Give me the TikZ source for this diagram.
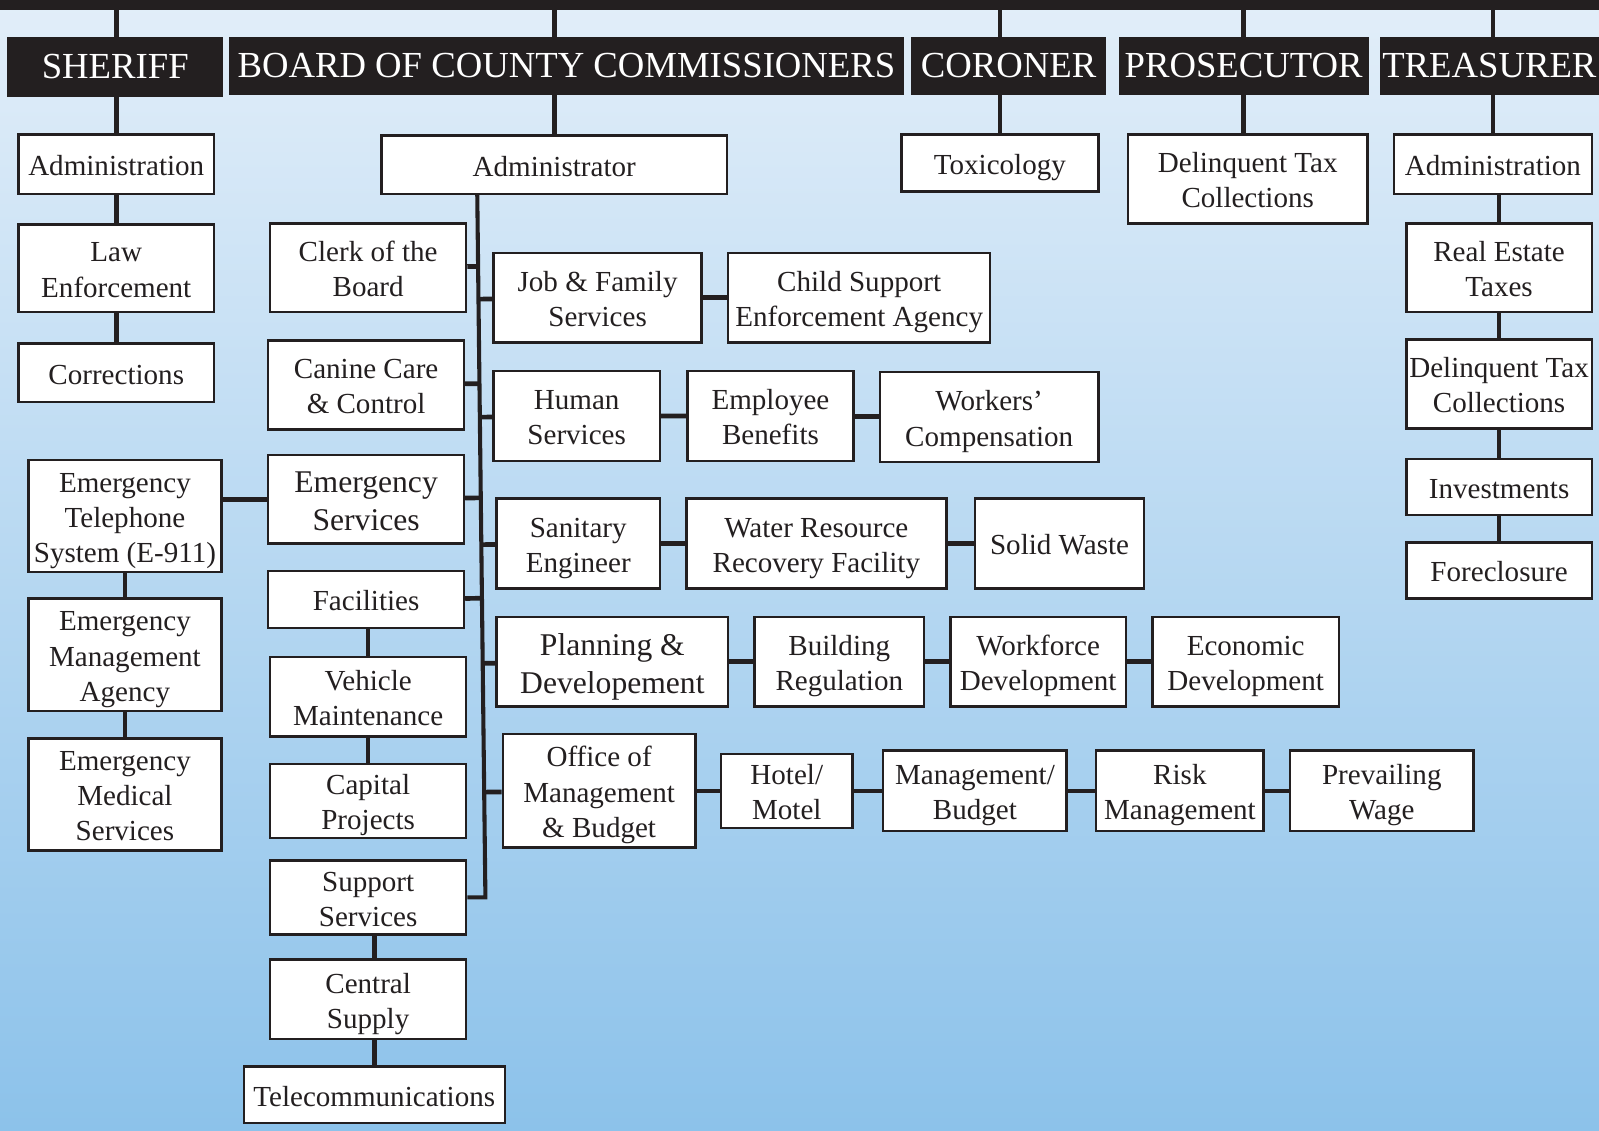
\documentclass[tikz,border=0pt]{standalone}
\usepackage{fontspec}
\setmainfont{Liberation Serif}
\usetikzlibrary{calc,backgrounds}
\definecolor{ink}{RGB}{35,31,32}
\definecolor{skytop}{RGB}{226,238,249}
\definecolor{skybot}{RGB}{140,194,234}

\begin{document}
\begin{tikzpicture}[x=1pt,y=-1pt,
	box/.style={draw=ink,line width=2.4pt,fill=white,text=ink,inner sep=0pt,align=center,font=\fontsize{28.5}{34.5}\selectfont,
		execute at begin node={\rule{0pt}{1.06em}},execute at end node={\rule[-0.28em]{0pt}{0.28em}}},
	twoline/.style={execute at begin node={\rule{0pt}{2.27em}}},
	threeline/.style={execute at begin node={\rule{0pt}{3.48em}}},
	head/.style={fill=ink,text=white,inner sep=0pt,font=\fontsize{36}{40}\selectfont},
	big/.style={font=\fontsize{31}{37}\selectfont},
	link/.style={draw=ink,line width=4.6pt},
	trunk/.style={draw=ink,line width=4pt}]
			\useasboundingbox (0,0) rectangle (1568,1109);
			
			\node[fill=ink,minimum width=1568pt,minimum height=10pt,inner sep=0pt] (bar) at (784,5) {};
			
			\node[head,minimum width=212pt,minimum height=59pt] (sheriff) at (113,65.5) {SHERIFF};
			\node[head,minimum width=661pt,minimum height=57pt] (board) at (555.5,64.5) {BOARD OF COUNTY COMMISSIONERS};
			\node[head,minimum width=192pt,minimum height=57pt] (coroner) at (989,64.5) {CORONER};
			\node[head,minimum width=245pt,minimum height=57pt] (prosecutor) at (1219.5,64.5) {PROSECUTOR};
			\node[head,minimum width=215pt,minimum height=57pt] (treasurer) at (1460.5,64.5) {TREASURER};
			
			\node[box,minimum width=192pt,minimum height=58pt] (sadmin) at (114,161) {Administration};
			\node[box,twoline,minimum width=192pt,minimum height=86pt] (law) at (114,263) {Law\\Enforcement};
			\node[box,minimum width=192pt,minimum height=57pt] (corr) at (114,365.5) {Corrections};
			
			\node[box,threeline,minimum width=189pt,minimum height=110pt] (e911) at (122.5,506) {Emergency\\Telephone\\System (E-911)};
			\node[box,threeline,minimum width=189pt,minimum height=110pt] (ema) at (122.5,642) {Emergency\\Management\\Agency};
			\node[box,threeline,minimum width=189pt,minimum height=110pt] (ems) at (122.5,779) {Emergency\\Medical\\Services};
			
			\node[box,minimum width=339pt,minimum height=57pt] (admr) at (543.5,161.5) {Administrator};
			\node[box,twoline,minimum width=192pt,minimum height=87pt] (clerk) at (361,262.5) {Clerk of the\\Board};
			\node[box,twoline,minimum width=192pt,minimum height=87pt] (canine) at (359,377.5) {Canine Care\\\& Control};
			\node[box,big,twoline,minimum width=192pt,minimum height=87pt] (emserv) at (359,489.5) {Emergency\\Services};
			\node[box,minimum width=192pt,minimum height=56pt] (facil) at (359,588) {Facilities};
			\node[box,twoline,minimum width=192pt,minimum height=78pt] (vehicle) at (361,683) {Vehicle\\Maintenance};
			\node[box,twoline,minimum width=192pt,minimum height=69pt] (capital) at (361,785.5) {Capital\\Projects};
			\node[box,twoline,minimum width=192pt,minimum height=68pt] (support) at (361,880) {Support\\Services};
			\node[box,twoline,minimum width=192pt,minimum height=78pt] (central) at (361,980) {Central\\Supply};
			\node[box,minimum width=256pt,minimum height=55pt] (telecom) at (367,1073.5) {Telecommunications};
			
			\node[box,twoline,minimum width=204pt,minimum height=88pt] (job) at (586,292) {Job \& Family\\Services};
			\node[box,twoline,minimum width=257pt,minimum height=88pt] (csea) at (842.5,292) {Child Support\\Enforcement Agency};
			\node[box,twoline,minimum width=163pt,minimum height=88pt] (human) at (565.5,408) {Human\\Services};
			\node[box,twoline,minimum width=163pt,minimum height=88pt] (empben) at (755.5,408) {Employee\\Benefits};
			\node[box,twoline,minimum width=214pt,minimum height=88pt] (workers) at (970,409) {Workers'\\Compensation};
			\node[box,twoline,minimum width=160pt,minimum height=88pt] (sanitary) at (567,533) {Sanitary\\Engineer};
			\node[box,twoline,minimum width=255pt,minimum height=88pt] (water) at (800.5,533) {Water Resource\\Recovery Facility};
			\node[box,minimum width=166pt,minimum height=88pt] (solid) at (1039,533) {Solid Waste};
			\node[box,big,twoline,minimum width=227pt,minimum height=88pt] (planning) at (600.5,649) {Planning \&\\Developement};
			\node[box,twoline,minimum width=166pt,minimum height=88pt] (building) at (823,649) {Building\\Regulation};
			\node[box,twoline,minimum width=172pt,minimum height=88pt] (workforce) at (1018,649) {Workforce\\Development};
			\node[box,twoline,minimum width=183pt,minimum height=88pt] (econ) at (1221.5,649) {Economic\\Development};
			\node[box,threeline,minimum width=189pt,minimum height=111pt] (omb) at (587.5,775.5) {Office of\\Management\\\& Budget};
			\node[box,twoline,minimum width=129pt,minimum height=70pt] (hotel) at (771.5,775.5) {Hotel/\\Motel};
			\node[box,twoline,minimum width=180pt,minimum height=79pt] (mgmtbud) at (956,775.5) {Management/\\Budget};
			\node[box,twoline,minimum width=164pt,minimum height=79pt] (risk) at (1157,775.5) {Risk\\Management};
			\node[box,twoline,minimum width=180pt,minimum height=79pt] (prevail) at (1355,775.5) {Prevailing\\Wage};
			
			\node[box,minimum width=193pt,minimum height=56pt] (tox) at (980.5,160) {Toxicology};
			\node[box,twoline,minimum width=235pt,minimum height=87pt] (pdelq) at (1223.5,175.5) {Delinquent Tax\\Collections};
			
			\node[box,minimum width=194pt,minimum height=58pt] (tadmin) at (1464,161) {Administration};
			\node[box,twoline,minimum width=182pt,minimum height=87pt] (retax) at (1470,262.5) {Real Estate\\Taxes};
			\node[box,twoline,minimum width=182pt,minimum height=87pt] (tdelq) at (1470,376.5) {Delinquent Tax\\Collections};
			\node[box,minimum width=182pt,minimum height=55pt] (invest) at (1470,477.5) {Investments};
			\node[box,minimum width=182pt,minimum height=55pt] (forecl) at (1470,559.5) {Foreclosure};
			
			\coordinate (trunktop) at (468,190);
			\coordinate (trunkbot) at (476,880);
			
			\begin{scope}[on background layer]
			\shade[top color=skytop,bottom color=skybot] (0,0) rectangle (1568,1109);
			
			\draw[link] (bar -| sadmin) -- (sadmin);
			\draw[link] (sadmin) -- (law);
			\draw[link] (law) -- (corr);
			
			\draw[link] (bar -| admr) -- (admr);
			\draw[trunk] (trunktop) -- (trunkbot) -- (support);
			\draw[link] (clerk) -- ($(trunktop)!(clerk)!(trunkbot)$);
			\draw[link] (canine) -- ($(trunktop)!(canine)!(trunkbot)$);
			\draw[link] (emserv) -- ($(trunktop)!(emserv)!(trunkbot)$);
			\draw[link] (facil) -- ($(trunktop)!(facil)!(trunkbot)$);
			\draw[link] (job) -- ($(trunktop)!(job)!(trunkbot)$);
			\draw[link] (human) -- ($(trunktop)!(human)!(trunkbot)$);
			\draw[link] (sanitary) -- ($(trunktop)!(sanitary)!(trunkbot)$);
			\draw[link] (planning) -- ($(trunktop)!(planning)!(trunkbot)$);
			\draw[link] (omb) -- ($(trunktop)!(omb)!(trunkbot)$);
			
			\draw[link] (emserv) -- (emserv -| e911.east);
			\draw[link] (e911) -- (ema);
			\draw[link] (ema) -- (ems);
			\draw[link] (vehicle) -- (vehicle |- facil.south);
			\draw[link] (vehicle) -- (capital);
			\draw[link] (telecom) -- (telecom |- support.south);
			
			\draw[link] (job) -- (csea);
			\draw[link] (human) -- (empben) -- (workers);
			\draw[link] (sanitary) -- (water) -- (solid);
			\draw[link] (planning) -- (building) -- (workforce) -- (econ);
			\draw[link] (omb) -- (hotel) -- (mgmtbud) -- (risk) -- (prevail);
			
			\draw[link] (bar -| tox) -- (tox);
			\draw[link] (bar -| prosecutor) -- (pdelq.north -| prosecutor);
			\draw[link] (bar -| tadmin) -- (tadmin);
			\draw[link] (retax) -- (retax |- tadmin.south);
			\draw[link] (retax) -- (tdelq);
			\draw[link] (tdelq) -- (invest);
			\draw[link] (invest) -- (forecl);
			\end{scope}
		\end{tikzpicture}
\end{document}
